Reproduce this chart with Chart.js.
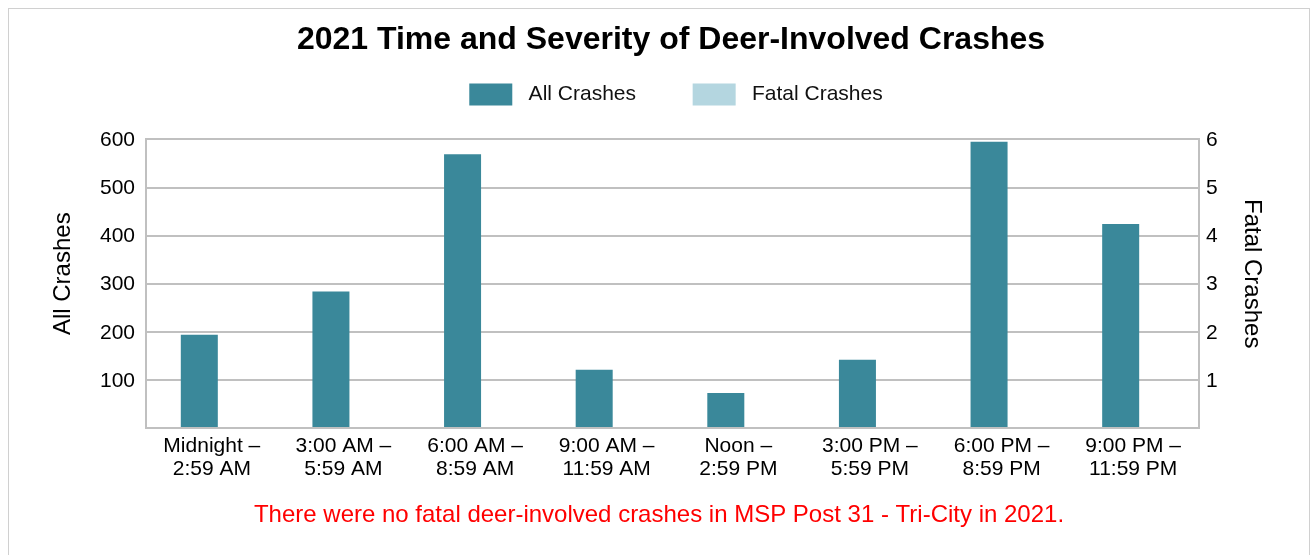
<!DOCTYPE html>
<html>
<head>
<meta charset="utf-8">
<script src="https://cdn.jsdelivr.net/npm/chart.js@4"></script>
<style>
  body { margin: 0; background: #fff; }
  #box {
    position: absolute; left: 8px; top: 8px;
    width: 1300px; height: 560px;
    border: 1px solid #d0d0d0;
  }
</style>
</head>
<body>
<div id="box"><canvas id="myGraph" width="1300" height="546"></canvas></div>
<script>
// values
var categories = [
  ["Midnight \u2013", "2:59 AM"],
  ["3:00 AM \u2013", "5:59 AM"],
  ["6:00 AM \u2013", "8:59 AM"],
  ["9:00 AM \u2013", "11:59 AM"],
  ["Noon \u2013", "2:59 PM"],
  ["3:00 PM \u2013", "5:59 PM"],
  ["6:00 PM \u2013", "8:59 PM"],
  ["9:00 PM \u2013", "11:59 PM"]
];
var allCrashes = [194, 284, 569, 121, 73, 142, 595, 424];
var fatalCrashes = [0, 0, 0, 0, 0, 0, 0, 0];

var fontFamily = 'Arial, "Liberation Sans", sans-serif';
var gridColor = "#c0c0c0";

Chart.defaults.font.family = fontFamily;
Chart.defaults.color = "#000";

var graph = document.getElementById("myGraph").getContext("2d");

// extra room between legend and plot, and nudge title/legend to the right
var layoutTweaks = {
  id: "layoutTweaks",
  beforeInit: function(chart) {
    var fit = chart.legend.fit;
    chart.legend.fit = function() {
      fit.bind(chart.legend)();
      this.height += 24;
    };
  },
  afterLayout: function(chart) {
    chart.titleBlock.left += 12;
    chart.titleBlock.right += 12;
    chart.legend.left += 17;
    chart.legend.right += 17;
  }
};

var deerChart = new Chart(graph, {
  type: "bar",
  data: {
    labels: categories,
    datasets: [
      {
        label: " All Crashes" + "        ",
        data: allCrashes,
        backgroundColor: "#3a889a",
        yAxisID: "y",
        categoryPercentage: 0.38,
        barPercentage: 1.48
      },
      {
        label: " Fatal Crashes",
        data: fatalCrashes,
        backgroundColor: "#b4d6e0",
        yAxisID: "y1",
        categoryPercentage: 0.38,
        barPercentage: 1.48
      }
    ]
  },
  options: {
    responsive: false,
    animation: false,
    devicePixelRatio: 1,
    layout: { padding: 0 },
    plugins: {
      title: {
        display: true,
        text: "2021 Time and Severity of Deer-Involved Crashes",
        font: { size: 32, weight: "bold" },
        color: "#000",
        padding: { top: 12, bottom: 14 }
      },
      subtitle: {
        display: true,
        position: "bottom",
        text: "There were no fatal deer-involved crashes in MSP Post 31 - Tri-City in 2021.",
        font: { size: 24 },
        color: "#ff0000",
        padding: { top: 13, bottom: 25 }
      },
      legend: {
        labels: {
          boxWidth: 43,
          boxHeight: 22,
          padding: 10,
          font: { size: 21 },
          color: "#111"
        }
      },
      tooltip: { enabled: false }
    },
    scales: {
      x: {
        grid: { display: false, drawTicks: false },
        border: { display: true, color: gridColor, width: 2 },
        ticks: {
          font: { size: 21, lineHeight: 1.1 },
          padding: 7,
          maxRotation: 0,
          autoSkip: false
        }
      },
      y: {
        position: "left",
        min: 0,
        max: 600,
        afterFit: function(scale) { scale.width = 137; },
        ticks: {
          stepSize: 100,
          font: { size: 21 },
          padding: 11,
          labelOffset: 1,
          callback: function(v) { return v === 0 ? "" : v; }
        },
        grid: { color: gridColor, lineWidth: 2, drawTicks: false },
        border: { display: true, color: gridColor, width: 2 },
        title: {
          display: true,
          text: "   All Crashes",
          font: { size: 24 },
          padding: { top: 40, bottom: 0 }
        }
      },
      y1: {
        position: "right",
        min: 0,
        max: 6,
        afterFit: function(scale) { scale.width = 110; },
        ticks: {
          stepSize: 1,
          font: { size: 21 },
          padding: 7,
          labelOffset: 1,
          callback: function(v) { return v === 0 ? "" : v; }
        },
        grid: { drawOnChartArea: false, drawTicks: false },
        border: { display: true, color: gridColor, width: 2 },
        title: {
          display: true,
          text: "Fatal Crashes   ",
          font: { size: 24 },
          padding: { top: 43, bottom: 0 }
        }
      }
    }
  },
  plugins: [layoutTweaks]
});
</script>
</body>
</html>
